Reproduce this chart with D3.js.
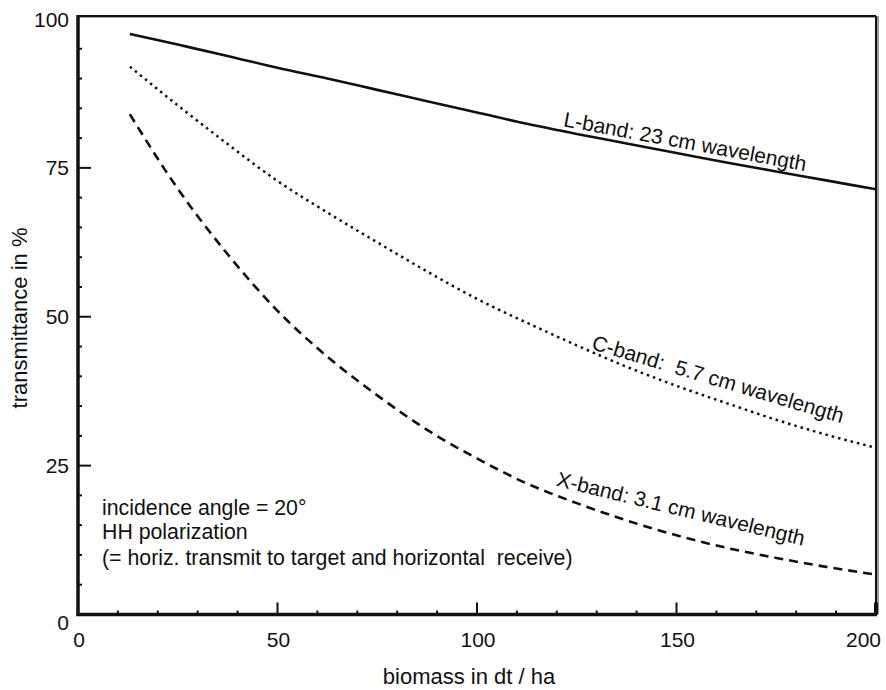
<!DOCTYPE html>
<html>
<head>
<meta charset="utf-8">
<script src="https://cdn.jsdelivr.net/npm/d3@7"></script>
<style>
  html, body { margin: 0; padding: 0; background: #fff; }
  svg { display: block; }
  text { font-family: "Liberation Sans", Arial, Helvetica, sans-serif; fill: #111; }
</style>
</head>
<body>
<svg id="chart" width="886" height="690"></svg>
<script>
// ---- data ----
const biomass = [13, 25, 37.5, 50, 62.5, 75, 87.5, 100, 112.5, 125, 137.5, 150, 162.5, 175, 187.5, 200];
const lBand = [97.5, 95.7, 93.8, 91.8, 90.0, 88.1, 86.2, 84.3, 82.4, 80.7, 79.1, 77.5, 75.9, 74.4, 72.9, 71.4];
const cBand = [92.0, 85.5, 79.0, 72.8, 67.5, 62.5, 57.6, 53.0, 49.0, 45.2, 41.6, 38.4, 35.5, 32.7, 30.2, 28.0];
const xBand = [84.0, 71.5, 60.5, 51.0, 43.3, 36.8, 31.0, 26.2, 22.0, 18.7, 15.8, 13.3, 11.2, 9.5, 8.0, 6.7];
const xTicks = [0, 50, 100, 150, 200];
const yTicks = [0, 25, 50, 75, 100];
const seriesNames = ["L-band: 23 cm wavelength", "C-band:  5.7 cm wavelength", "X-band: 3.1 cm wavelength"];
const noteLines = ["incidence angle = 20°", "HH polarization", "(= horiz. transmit to target and horizontal  receive)"];
const xTitle = "biomass in dt / ha";
const yTitle = "transmittance in %";

(function () {
const svg = d3.select("#chart");
const x = d3.scaleLinear().domain([0, 200]).range([78, 876]);
const y = d3.scaleLinear().domain([0, 100]).range([614.5, 19]);

// frame: top & right borders (thin, with grey shadow)
const yTop = y(100) - 3, xRight = x(200);
svg.append("line").attr("x1", x(0)).attr("x2", xRight + 3).attr("y1", yTop + 1).attr("y2", yTop + 1)
  .attr("stroke", "#aaa").attr("stroke-width", 2);
svg.append("line").attr("x1", x(0)).attr("x2", xRight).attr("y1", yTop).attr("y2", yTop)
  .attr("stroke", "#111").attr("stroke-width", 2);
svg.append("line").attr("x1", xRight + 2).attr("x2", xRight + 2).attr("y1", yTop).attr("y2", y(0))
  .attr("stroke", "#999").attr("stroke-width", 2);
svg.append("line").attr("x1", xRight).attr("x2", xRight).attr("y1", yTop).attr("y2", y(0))
  .attr("stroke", "#111").attr("stroke-width", 2);

// ticks
const gx = svg.append("g");
d3.range(10, 200, 10).forEach(v => {
  const major = v % 50 === 0;
  gx.append("line").attr("x1", x(v)).attr("x2", x(v))
    .attr("y1", y(0)).attr("y2", y(0) - (major ? 12 : 4))
    .attr("stroke", "#111").attr("stroke-width", 2);
});
d3.range(5, 100, 5).forEach(v => {
  const major = v % 25 === 0;
  gx.append("line").attr("y1", y(v)).attr("y2", y(v))
    .attr("x1", x(0)).attr("x2", x(0) + (major ? 13 : 4))
    .attr("stroke", "#111").attr("stroke-width", 2);
});
gx.append("line").attr("x1", xRight).attr("x2", xRight).attr("y1", y(0)).attr("y2", y(0) - 12)
  .attr("stroke", "#111").attr("stroke-width", 4);

// axes lines (thick)
svg.append("line").attr("x1", x(0)).attr("x2", x(0)).attr("y1", yTop - 1).attr("y2", y(0) + 1.5)
  .attr("stroke", "#111").attr("stroke-width", 3.5);
svg.append("line").attr("x1", x(0) - 1.5).attr("x2", xRight + 1).attr("y1", y(0)).attr("y2", y(0))
  .attr("stroke", "#111").attr("stroke-width", 3.5);

// tick labels
svg.append("g").selectAll("text").data(xTicks).join("text")
  .attr("x", d => d === 200 ? x(d) + 5 : x(d) + 1)
  .attr("y", 647)
  .attr("text-anchor", d => d === 200 ? "end" : "middle")
  .attr("font-size", 21)
  .text(d => d);
svg.append("g").selectAll("text").data(yTicks).join("text")
  .attr("x", 69)
  .attr("y", d => d === 0 ? 630 : y(d) + 7.5)
  .attr("text-anchor", "end")
  .attr("font-size", 21)
  .text(d => d);

// axis titles
svg.append("text").attr("x", 469).attr("y", 684).attr("text-anchor", "middle")
  .attr("font-size", 22).text(xTitle);
svg.append("text").attr("transform", "translate(27,318) rotate(-90)")
  .attr("text-anchor", "middle").attr("font-size", 22).text(yTitle);

// series
const line = d3.line().x(d => x(d[0])).y(d => y(d[1])).curve(d3.curveMonotoneX);
const series = [
  { vals: lBand, dash: null, w: 2.6 },
  { vals: cBand, dash: "2.5,4", w: 2.5 },
  { vals: xBand, dash: "9,6", w: 2.6 }
];
series.forEach(s => {
  svg.append("path")
    .datum(biomass.map((b, i) => [b, s.vals[i]]))
    .attr("d", line)
    .attr("fill", "none")
    .attr("stroke", "#111")
    .attr("stroke-width", s.w)
    .attr("stroke-dasharray", s.dash);
});

// series labels (rotated along the curves)
const labelPos = [
  { bx: 121.5, v: 82.0, ang: 10.5 },
  { bx: 128.5, v: 44.6, ang: 16.5 },
  { bx: 119.7, v: 21.6, ang: 13.6 }
];
labelPos.forEach((p, i) => {
  svg.append("text")
    .attr("transform", `translate(${x(p.bx)},${y(p.v)}) rotate(${p.ang})`)
    .attr("font-size", 21)
    .style("white-space", "pre")
    .text(seriesNames[i]);
});

// annotation
svg.append("g").selectAll("text").data(noteLines).join("text")
  .attr("x", 102)
  .attr("y", (d, i) => [515, 539, 565][i])
  .attr("font-size", 21.3)
  .style("white-space", "pre")
  .text(d => d);
})();
</script>
</body>
</html>
